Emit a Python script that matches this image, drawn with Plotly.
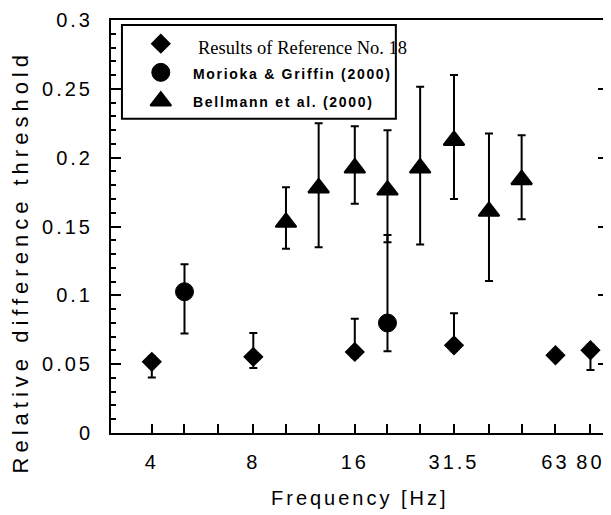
import plotly.graph_objects as go

# ---------------- data ----------------
freq_ticks = [4, 5, 6.3, 8, 10, 12.5, 16, 20, 25, 31.5, 40, 50, 63, 80]
freq_tick_labels = ['4', '', '', '8', '', '', '16', '', '', '31.5', '', '', '63', '80']
y_ticks = [0, 0.05, 0.1, 0.15, 0.2, 0.25, 0.3]
y_tick_labels = ['0', '0.05', '0.1', '0.15', '0.2', '0.25', '0.3']

ref18_name = 'Results of Reference No. 18'
ref18_freq = [4, 8, 16, 31.5, 63, 80]
ref18_thr = [0.0517, 0.0553, 0.0589, 0.0637, 0.0565, 0.0601]
ref18_err_plus = [0.004, 0.0174, 0.024, 0.0233, 0.0, 0.004]
ref18_err_minus = [0.0113, 0.008, 0.004, 0.004, 0.0, 0.0144]

morioka_name = 'Morioka & Griffin (2000)'
morioka_freq = [5, 20]
morioka_thr = [0.1026, 0.0799]
morioka_err_plus = [0.020, 0.064]
morioka_err_minus = [0.0303, 0.0205]

bellmann_name = 'Bellmann et al. (2000)'
bellmann_freq = [10, 12.5, 16, 20, 25, 31.5, 40, 50]
bellmann_thr = [0.153, 0.178, 0.1925, 0.1765, 0.1925, 0.2125, 0.161, 0.184]
bellmann_upper = [0.1785, 0.225, 0.2228, 0.22, 0.2515, 0.26, 0.2175, 0.2163]
bellmann_lower = [0.1338, 0.135, 0.1666, 0.1385, 0.137, 0.170, 0.1105, 0.1553]
bellmann_err_plus = [u - v for u, v in zip(bellmann_upper, bellmann_thr)]
bellmann_err_minus = [v - l for v, l in zip(bellmann_thr, bellmann_lower)]

# ---------------- layout helpers ----------------
WIN_W, WIN_H = 611, 515
OFF = 8                      # default page (body) margin of the browser
W, H = WIN_W - OFF, WIN_H - OFF
L, R, T, B = 111, 610, 15, 433  # plot area in window pixels


def px_x(p):
    return (p - L) / (R - L)


def px_y(p):
    return (B - p) / (B - T)


def spaced(t, ls):
    return f'<span style="letter-spacing:{ls}px">{t}</span>' if t else ''


SANS = 'Liberation Sans, Arial, Helvetica, sans-serif'
SERIF = 'Liberation Serif, Times New Roman, serif'


def err(plus, minus):
    return dict(type='data', symmetric=False, array=plus, arrayminus=minus,
                color='black', thickness=2, width=4)


fig = go.Figure()

fig.add_trace(go.Scatter(
    x=ref18_freq, y=ref18_thr, mode='markers', name=ref18_name,
    marker=dict(symbol='diamond', size=14, color='black', line=dict(color='black', width=1.5)),
    error_y=err(ref18_err_plus, ref18_err_minus), showlegend=False))

fig.add_trace(go.Scatter(
    x=morioka_freq, y=morioka_thr, mode='markers', name=morioka_name,
    marker=dict(symbol='circle', size=18, color='black', line=dict(color='black', width=1)),
    error_y=err(morioka_err_plus, morioka_err_minus), showlegend=False))

fig.add_trace(go.Scatter(
    x=bellmann_freq, y=bellmann_thr, mode='markers', name=bellmann_name,
    marker=dict(symbol='triangle-up', size=18, color='black', line=dict(color='black', width=2)),
    error_y=err(bellmann_err_plus, bellmann_err_minus), showlegend=False))

# legend symbols (drawn on an invisible pixel-scaled overlay axis)
legend_symbols = ['diamond', 'circle', 'triangle-up']
legend_sizes = [14, 18, 18]
legend_lw = [1.5, 1, 2]
legend_rows_px = [39, 68, 97]
for sym, sz, lw, ry in zip(legend_symbols, legend_sizes, legend_lw, legend_rows_px):
    fig.add_trace(go.Scatter(
        x=[161], y=[ry], xaxis='x2', yaxis='y2', mode='markers', showlegend=False,
        hoverinfo='skip',
        marker=dict(symbol=sym, size=sz, color='black', line=dict(color='black', width=lw))))

fig.update_layout(
    width=W, height=H,
    margin=dict(l=L - OFF, r=WIN_W - R, t=T - OFF, b=WIN_H - B, pad=0),
    paper_bgcolor='white', plot_bgcolor='white',
    font=dict(family=SANS, color='black'),
    xaxis=dict(
        type='log', range=[0.4810, 1.9551],
        tickmode='array', tickvals=freq_ticks,
        ticktext=[spaced(t, 3) for t in freq_tick_labels],
        ticks='inside', ticklen=9, tickwidth=2, tickcolor='black',
        showline=True, linecolor='black', linewidth=2, mirror=True,
        showgrid=False, zeroline=False,
        tickfont=dict(family=SANS, size=20, color='black'),
        ticklabelstandoff=10, ticklabeloverflow='allow',
    ),
    yaxis=dict(
        range=[0, 0.3],
        tickmode='array', tickvals=y_ticks,
        ticktext=[spaced(t, 3) for t in y_tick_labels],
        ticks='inside', ticklen=10, tickwidth=2, tickcolor='black',
        minor=dict(tickmode='linear', tick0=0, dtick=0.01, ticks='inside',
                   ticklen=5, tickwidth=1.5, tickcolor='black'),
        showline=True, linecolor='black', linewidth=2, mirror='allticks',
        showgrid=False, zeroline=False,
        tickfont=dict(family=SANS, size=20, color='black'),
        ticklabelstandoff=12, ticklabeloverflow='allow',
    ),
    xaxis2=dict(overlaying='x', anchor='y2', range=[L, R], visible=False, fixedrange=True),
    yaxis2=dict(overlaying='y', anchor='x2', range=[B, T], visible=False, fixedrange=True),
    showlegend=False,
)

# legend box
fig.add_shape(type='rect', xref='paper', yref='paper',
              x0=px_x(122), x1=px_x(397), y0=px_y(115), y1=px_y(20),
              line=dict(color='black', width=2), fillcolor='white', layer='below')

# legend texts
fig.add_annotation(text=ref18_name, xref='paper', yref='paper', x=px_x(196), y=px_y(43),
                   xanchor='left', yanchor='middle', showarrow=False,
                   font=dict(family=SERIF, size=18.5, color='black'))
fig.add_annotation(text=spaced(morioka_name, 1.7), xref='paper', yref='paper', x=px_x(191), y=px_y(70),
                   xanchor='left', yanchor='middle', showarrow=False,
                   font=dict(family=SANS, size=14, color='black', weight='bold'))
fig.add_annotation(text=spaced(bellmann_name, 1.7), xref='paper', yref='paper', x=px_x(191), y=px_y(98),
                   xanchor='left', yanchor='middle', showarrow=False,
                   font=dict(family=SANS, size=14, color='black', weight='bold'))

# axis titles
fig.add_annotation(text=spaced('Frequency [Hz]', 3), xref='paper', yref='paper',
                   x=px_x(361), y=px_y(499), xanchor='center', yanchor='middle', showarrow=False,
                   font=dict(family=SANS, size=20, color='black'))
fig.add_annotation(text=spaced('Relative difference threshold', 5), xref='paper', yref='paper',
                   x=px_x(20), y=px_y(260), xanchor='center', yanchor='middle', showarrow=False,
                   textangle=-90, borderpad=0, font=dict(family=SANS, size=22, color='black'))

fig.write_html('out.html')
